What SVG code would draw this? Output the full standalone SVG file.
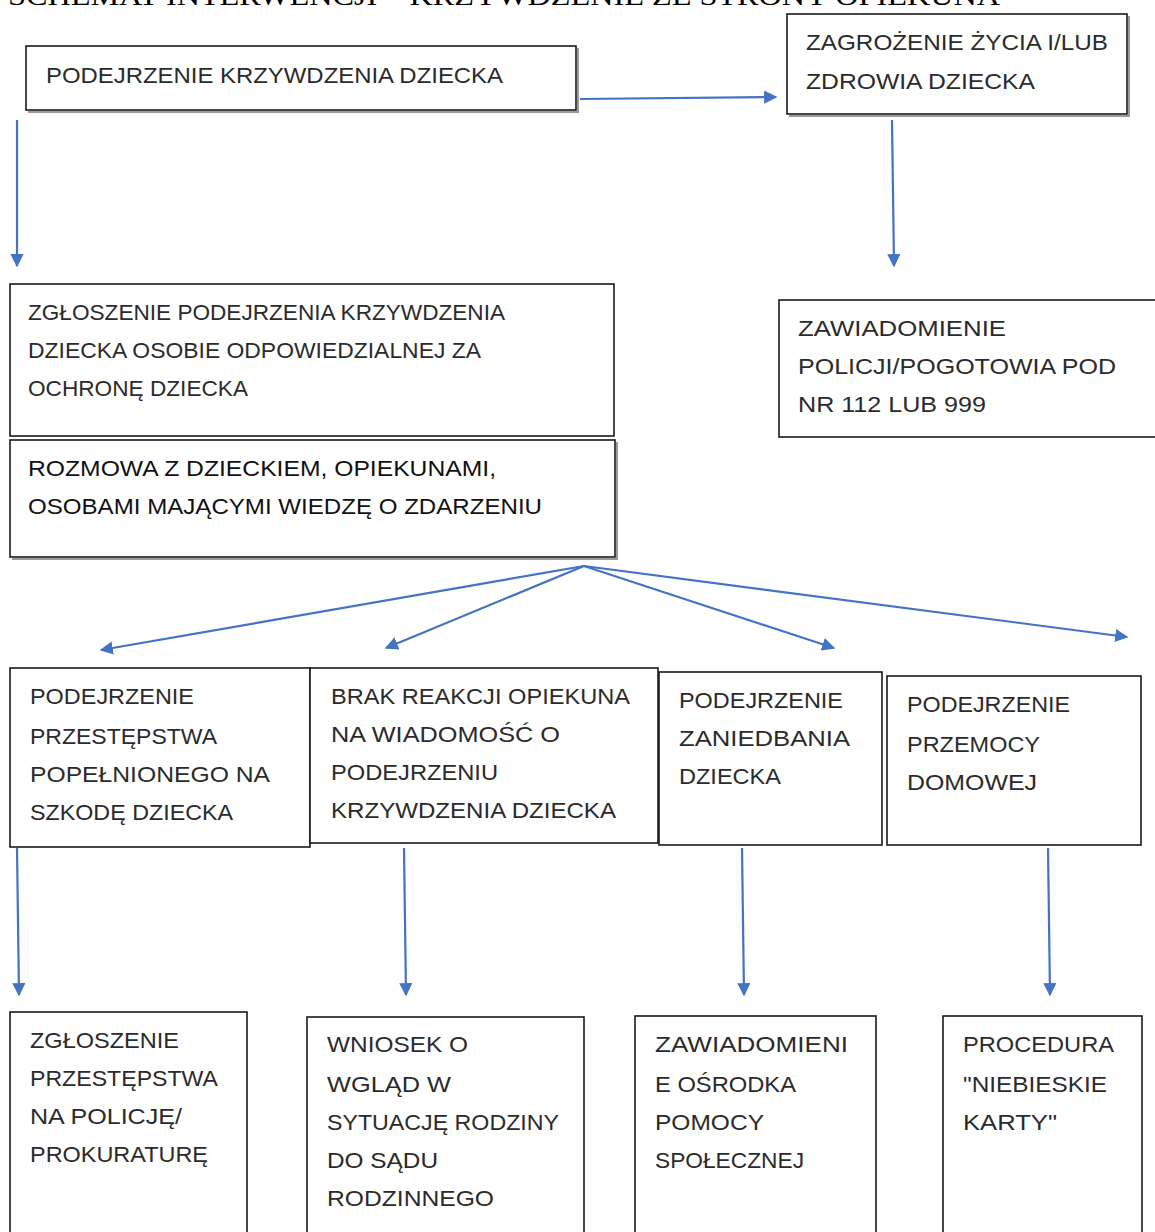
<svg xmlns="http://www.w3.org/2000/svg" width="1155" height="1232" viewBox="0 0 1155 1232">
<style>
.box{fill:#fff;stroke:#1a1a1a;stroke-width:1.6}
.sh{fill:none;stroke:#9a9a9a;stroke-width:2}
.t{font-family:"Liberation Sans",Arial,sans-serif;font-size:22px;fill:#2b2b2b}
.d{fill:#111}
.title{font-family:"Liberation Serif","Times New Roman",serif;font-size:28px;fill:#000}
.c{fill:none;stroke:#4472C4;stroke-width:2.2}
</style>
<defs>
<marker id="ah" viewBox="0 0 10 10" refX="9" refY="5" markerWidth="6" markerHeight="6" markerUnits="strokeWidth" orient="auto">
<path d="M0,0 L10,5 L0,10 z" fill="#4472C4"/>
</marker>
</defs>
<rect width="1155" height="1232" fill="#fff"/>
<text class="title" x="8" y="5" textLength="992" lengthAdjust="spacingAndGlyphs">SCHEMAT INTERWENCJI – KRZYWDZENIE ZE STRONY OPIEKUNA</text>

<g id="connectors">
<line class="c" x1="580" y1="99" x2="776" y2="97" marker-end="url(#ah)"/>
<line class="c" x1="17" y1="120" x2="17" y2="266" marker-end="url(#ah)"/>
<line class="c" x1="892" y1="120" x2="894" y2="266" marker-end="url(#ah)"/>
<line class="c" x1="584" y1="566" x2="101" y2="650" marker-end="url(#ah)"/>
<line class="c" x1="584" y1="566" x2="386" y2="648" marker-end="url(#ah)"/>
<line class="c" x1="584" y1="566" x2="834" y2="648" marker-end="url(#ah)"/>
<line class="c" x1="584" y1="566" x2="1127" y2="637" marker-end="url(#ah)"/>
<line class="c" x1="17" y1="848" x2="19" y2="995" marker-end="url(#ah)"/>
<line class="c" x1="404" y1="848" x2="406" y2="995" marker-end="url(#ah)"/>
<line class="c" x1="742" y1="848" x2="744" y2="995" marker-end="url(#ah)"/>
<line class="c" x1="1048" y1="848" x2="1050" y2="995" marker-end="url(#ah)"/>
</g>

<g id="n1">
<polyline class="sh" points="578,48 578,112 28,112"/>
<rect class="box" x="26" y="46" width="550" height="64"/>
<text class="t" x="46" y="83" textLength="457" lengthAdjust="spacingAndGlyphs">PODEJRZENIE KRZYWDZENIA DZIECKA</text>
</g>

<g id="n2">
<polyline class="sh" points="1129,16 1129,116 789,116"/>
<rect class="box" x="787" y="14" width="340" height="100"/>
<text class="t" x="806" y="50" textLength="302" lengthAdjust="spacingAndGlyphs">ZAGROŻENIE ŻYCIA I/LUB</text>
<text class="t" x="806" y="89" textLength="229" lengthAdjust="spacingAndGlyphs">ZDROWIA DZIECKA</text>
</g>

<g id="n3">
<rect class="box" x="10" y="284" width="604" height="152"/>
<text class="t" x="28" y="320" textLength="477" lengthAdjust="spacingAndGlyphs">ZGŁOSZENIE PODEJRZENIA KRZYWDZENIA</text>
<text class="t" x="28" y="358" textLength="453" lengthAdjust="spacingAndGlyphs">DZIECKA OSOBIE ODPOWIEDZIALNEJ ZA</text>
<text class="t" x="28" y="396" textLength="220" lengthAdjust="spacingAndGlyphs">OCHRONĘ DZIECKA</text>
</g>

<g id="n4">
<polyline class="sh" points="617,442 617,559 12,559"/>
<rect class="box" x="10" y="440" width="605" height="117"/>
<text class="t d" x="28" y="476" textLength="468" lengthAdjust="spacingAndGlyphs">ROZMOWA Z DZIECKIEM, OPIEKUNAMI,</text>
<text class="t d" x="28" y="514" textLength="514" lengthAdjust="spacingAndGlyphs">OSOBAMI MAJĄCYMI WIEDZĘ O ZDARZENIU</text>
</g>

<g id="n5">
<rect class="box" x="779" y="300" width="390" height="137"/>
<text class="t" x="798" y="336" textLength="208" lengthAdjust="spacingAndGlyphs">ZAWIADOMIENIE</text>
<text class="t" x="798" y="374" textLength="318" lengthAdjust="spacingAndGlyphs">POLICJI/POGOTOWIA POD</text>
<text class="t" x="798" y="412" textLength="188" lengthAdjust="spacingAndGlyphs">NR 112 LUB 999</text>
</g>

<g id="n6">
<rect class="box" x="10" y="668" width="300" height="179"/>
<text class="t" x="30" y="704" textLength="164" lengthAdjust="spacingAndGlyphs">PODEJRZENIE</text>
<text class="t" x="30" y="744" textLength="187" lengthAdjust="spacingAndGlyphs">PRZESTĘPSTWA</text>
<text class="t" x="30" y="782" textLength="240" lengthAdjust="spacingAndGlyphs">POPEŁNIONEGO NA</text>
<text class="t" x="30" y="820" textLength="203" lengthAdjust="spacingAndGlyphs">SZKODĘ DZIECKA</text>
</g>

<g id="n7">
<rect class="box" x="310" y="668" width="348" height="175"/>
<text class="t" x="331" y="704" textLength="299" lengthAdjust="spacingAndGlyphs">BRAK REAKCJI OPIEKUNA</text>
<text class="t" x="331" y="742" textLength="229" lengthAdjust="spacingAndGlyphs">NA WIADOMOŚĆ O</text>
<text class="t" x="331" y="780" textLength="167" lengthAdjust="spacingAndGlyphs">PODEJRZENIU</text>
<text class="t" x="331" y="818" textLength="285" lengthAdjust="spacingAndGlyphs">KRZYWDZENIA DZIECKA</text>
</g>

<g id="n8">
<rect class="box" x="659" y="672" width="223" height="173"/>
<text class="t" x="679" y="708" textLength="164" lengthAdjust="spacingAndGlyphs">PODEJRZENIE</text>
<text class="t" x="679" y="746" textLength="171" lengthAdjust="spacingAndGlyphs">ZANIEDBANIA</text>
<text class="t" x="679" y="784" textLength="102" lengthAdjust="spacingAndGlyphs">DZIECKA</text>
</g>

<g id="n9">
<rect class="box" x="887" y="676" width="254" height="169"/>
<text class="t" x="907" y="712" textLength="163" lengthAdjust="spacingAndGlyphs">PODEJRZENIE</text>
<text class="t" x="907" y="752" textLength="133" lengthAdjust="spacingAndGlyphs">PRZEMOCY</text>
<text class="t" x="907" y="790" textLength="130" lengthAdjust="spacingAndGlyphs">DOMOWEJ</text>
</g>

<g id="n10">
<rect class="box" x="10" y="1012" width="237" height="240"/>
<text class="t" x="30" y="1048" textLength="149" lengthAdjust="spacingAndGlyphs">ZGŁOSZENIE</text>
<text class="t" x="30" y="1086" textLength="188" lengthAdjust="spacingAndGlyphs">PRZESTĘPSTWA</text>
<text class="t" x="30" y="1124" textLength="152" lengthAdjust="spacingAndGlyphs">NA POLICJĘ/</text>
<text class="t" x="30" y="1162" textLength="178" lengthAdjust="spacingAndGlyphs">PROKURATURĘ</text>
</g>

<g id="n11">
<rect class="box" x="307" y="1017" width="277" height="240"/>
<text class="t" x="327" y="1052" textLength="141" lengthAdjust="spacingAndGlyphs">WNIOSEK O</text>
<text class="t" x="327" y="1092" textLength="124" lengthAdjust="spacingAndGlyphs">WGLĄD W</text>
<text class="t" x="327" y="1130" textLength="232" lengthAdjust="spacingAndGlyphs">SYTUACJĘ RODZINY</text>
<text class="t" x="327" y="1168" textLength="111" lengthAdjust="spacingAndGlyphs">DO SĄDU</text>
<text class="t" x="327" y="1206" textLength="167" lengthAdjust="spacingAndGlyphs">RODZINNEGO</text>
</g>

<g id="n12">
<rect class="box" x="635" y="1016" width="241" height="240"/>
<text class="t" x="655" y="1052" textLength="193" lengthAdjust="spacingAndGlyphs">ZAWIADOMIENI</text>
<text class="t" x="655" y="1092" textLength="141" lengthAdjust="spacingAndGlyphs">E OŚRODKA</text>
<text class="t" x="655" y="1130" textLength="109" lengthAdjust="spacingAndGlyphs">POMOCY</text>
<text class="t" x="655" y="1168" textLength="149" lengthAdjust="spacingAndGlyphs">SPOŁECZNEJ</text>
</g>

<g id="n13">
<rect class="box" x="943" y="1016" width="199" height="240"/>
<text class="t" x="963" y="1052" textLength="151" lengthAdjust="spacingAndGlyphs">PROCEDURA</text>
<text class="t" x="963" y="1092" textLength="144" lengthAdjust="spacingAndGlyphs">"NIEBIESKIE</text>
<text class="t" x="963" y="1130" textLength="94" lengthAdjust="spacingAndGlyphs">KARTY"</text>
</g>
</svg>
